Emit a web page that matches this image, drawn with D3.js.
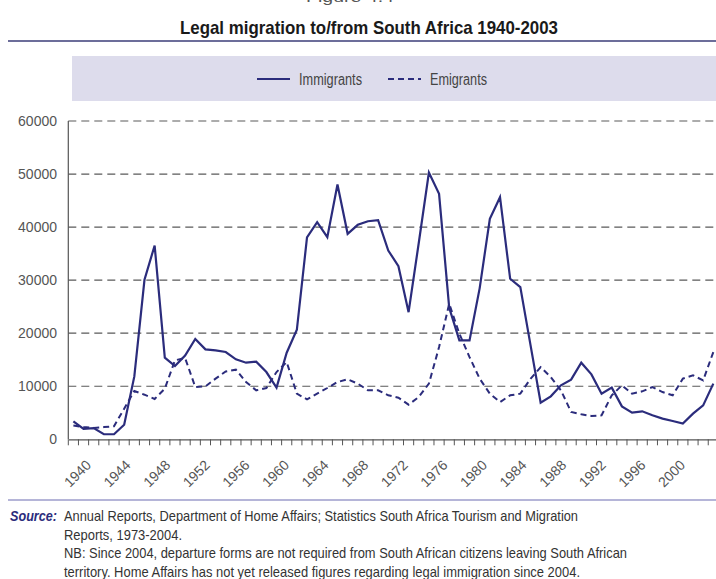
<!DOCTYPE html>
<meta charset="utf-8" />
<title>Legal migration to/from South Africa 1940-2003</title>
<script src="https://d3js.org/d3.v7.min.js"></script>
<style>
body { margin: 0; background: #fff; }
svg { display: block; }
.narrow { font-family: 'Liberation Sans', Arial, sans-serif; }
.tick-label { font-family: 'Liberation Sans', Arial, sans-serif; font-size: 14px; fill: #555; }
</style>
<div id="chart"></div>
<script>
// data
var years = d3.range(1940, 2004);
var immigrants = [3400, 1950, 2100, 950, 950, 2750, 11850, 30070, 36530, 15380,
    13800, 15800, 18900, 16950, 16750, 16450, 15070, 14440, 14630, 12680,
    9740, 16320, 20650, 38050, 40930, 38100, 48020, 38730, 40430, 41110,
    41300, 35590, 32640, 23970, 37000, 50290, 46270, 24800, 18640, 18640,
    28500, 41560, 45630, 30260, 28680, 17800, 6910, 8100, 10170, 11240,
    14440, 12240, 8600, 9740, 6210, 5020, 5270, 4520, 3900, 3450,
    2950, 4840, 6400, 10490];
var emigrants = [2600, 2300, 2150, 2300, 2450, 5780, 9100, 8410, 7600, 9540,
    14880, 15320, 9850, 9980, 11430, 12800, 13120, 10800, 9230, 9670,
    12680, 14560, 8600, 7530, 8600, 9670, 10800, 11300, 10490, 9230,
    9230, 8290, 7850, 6530, 7970, 10490, 17380, 25550, 19900, 15500,
    11430, 8600, 7020, 8290, 8600, 11400, 13600, 11730, 9230, 5150,
    4710, 4390, 4520, 8290, 10170, 8600, 9040, 9850, 8910, 8290,
    11430, 12050, 11110, 16450];
var yTicks = [0, 10000, 20000, 30000, 40000, 50000, 60000];
var labelYears = d3.range(1940, 2001, 4);

var W = 716, H = 579;
var navy = '#2b2c7c';
var plot = { left: 68.3, right: 718.4, top: 121, bottom: 439.3 };

var svg = d3.select('#chart').append('svg')
    .attr('width', W)
    .attr('height', H);

// condensed text: squeeze Liberation Sans to a given width
function narrowText(x, y, txt, size, len, anchor) {
    return svg.append('text')
        .attr('class', 'narrow')
        .attr('x', x).attr('y', y)
        .attr('text-anchor', anchor || 'start')
        .attr('textLength', len)
        .attr('lengthAdjust', 'spacingAndGlyphs')
        .style('font-size', size + 'px')
        .text(txt);
}

// header (cut off at the top edge in the reference)
narrowText(350, 2, 'Figure 4.4', 15, 88, 'middle').style('fill', '#555');
narrowText(369, 34, 'Legal migration to/from South Africa 1940-2003', 19, 378, 'middle')
    .style('font-weight', 'bold').style('fill', '#1a1a1a');
svg.append('line')
    .attr('x1', 8).attr('x2', W).attr('y1', 41).attr('y2', 41)
    .style('stroke', '#3b3d78').style('stroke-width', 1.3);

// legend box
svg.append('rect')
    .attr('x', 72).attr('y', 56).attr('width', W - 72).attr('height', 45)
    .style('fill', '#dddcec');
var legend = [
    { name: 'Immigrants', x: 257, w: 63, dash: null },
    { name: 'Emigrants', x: 388, w: 57, dash: '6,4' }
];
legend.forEach(function(l) {
    svg.append('line')
        .attr('x1', l.x).attr('x2', l.x + 33).attr('y1', 79).attr('y2', 79)
        .style('stroke', navy).style('stroke-width', 2.2)
        .style('stroke-dasharray', l.dash);
    narrowText(l.x + 42, 85, l.name, 16, l.w).style('fill', '#444');
});

// scales
var x = d3.scaleBand().domain(years).range([plot.left, plot.right]).padding(0);
var cx = function(d) { return x(d) + x.bandwidth() / 2; };
var y = d3.scaleLinear().domain([0, 60000]).range([plot.bottom, plot.top]);
var xl = d3.scaleLinear().domain([1940, 2000]).range([92, 686]);

// gridlines
svg.append('g').selectAll('line')
    .data(yTicks.filter(function(d) { return d > 0; }))
    .enter().append('line')
    .attr('x1', plot.left).attr('x2', W)
    .attr('y1', function(d) { return y(d); })
    .attr('y2', function(d) { return y(d); })
    .style('stroke', '#5a5a5a').style('stroke-width', 1.2)
    .style('stroke-dasharray', '8,5');

// y labels
svg.append('g').selectAll('text')
    .data(yTicks)
    .enter().append('text')
    .attr('class', 'tick-label')
    .attr('x', 57)
    .attr('y', function(d) { return y(d); })
    .attr('dy', '0.36em')
    .attr('text-anchor', 'end')
    .text(function(d) { return d; });

// axes lines
svg.append('line')
    .attr('x1', plot.left).attr('x2', plot.left)
    .attr('y1', plot.top).attr('y2', plot.bottom)
    .style('stroke', '#555').style('stroke-width', 1.2);
var xAxis = d3.axisBottom(x).tickSize(6).tickFormat('').tickSizeOuter(0);
var gx = svg.append('g')
    .attr('transform', 'translate(0,' + plot.bottom + ')')
    .call(xAxis);
gx.select('.domain').style('stroke', '#555').style('stroke-width', 1.2);
// ticks at category boundaries
gx.selectAll('.tick').attr('transform', function(d) { return 'translate(' + x(d) + ',0)'; });
gx.selectAll('.tick line').style('stroke', '#555');

// x labels
svg.append('g').selectAll('text')
    .data(labelYears)
    .enter().append('text')
    .attr('class', 'tick-label')
    .attr('text-anchor', 'end')
    .attr('transform', function(d) { return 'translate(' + xl(d) + ',466) rotate(-45)'; })
    .text(function(d) { return d; });

// lines
var line = d3.line()
    .x(function(d, i) { return cx(years[i]); })
    .y(function(d) { return y(d); });
svg.append('path')
    .datum(emigrants)
    .attr('d', line)
    .style('fill', 'none').style('stroke', navy).style('stroke-width', 2)
    .style('stroke-dasharray', '6,4');
svg.append('path')
    .datum(immigrants)
    .attr('d', line)
    .style('fill', 'none').style('stroke', navy).style('stroke-width', 2.2);

// footer
svg.append('line')
    .attr('x1', 8).attr('x2', W).attr('y1', 500).attr('y2', 500)
    .style('stroke', '#9d9dcb').style('stroke-width', 1.3);
narrowText(10, 521, 'Source:', 15, 47)
    .style('font-weight', 'bold').style('font-style', 'italic').style('fill', navy);
var notes = [
    { t: 'Annual Reports, Department of Home Affairs; Statistics South Africa Tourism and Migration', w: 514 },
    { t: 'Reports, 1973-2004.', w: 118 },
    { t: 'NB: Since 2004, departure forms are not required from South African citizens leaving South African', w: 563 },
    { t: 'territory. Home Affairs has not yet released figures regarding legal immigration since 2004.', w: 516 }
];
notes.forEach(function(n, i) {
    narrowText(64, 521 + i * 18.5, n.t, 15, n.w).style('fill', '#333');
});
</script>
